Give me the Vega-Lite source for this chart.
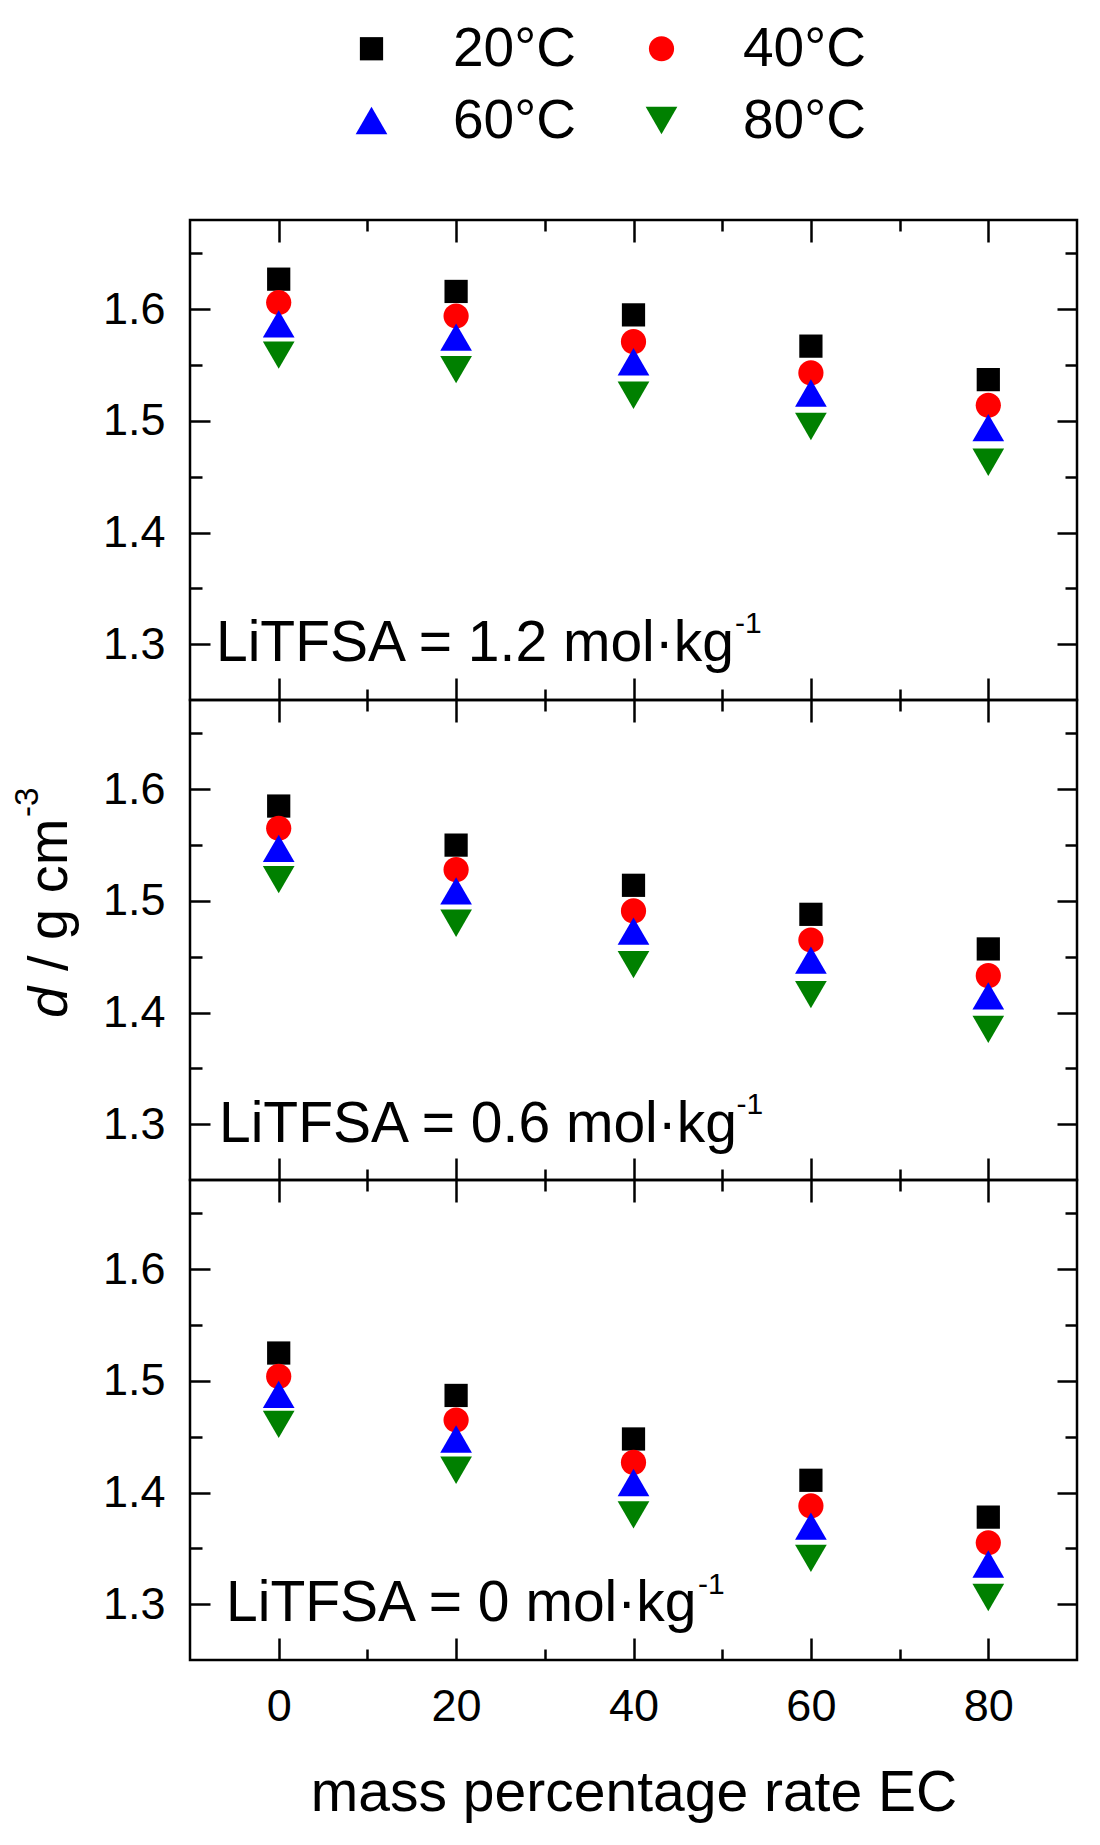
{
  "$schema": "https://vega.github.io/schema/vega-lite/v6.json",
  "background": "white",
  "padding": {"left": 10, "top": 21, "right": 5, "bottom": 5},
  "datasets": {
    "pts": [
      {"c": "1.2", "EC": 0, "T": "20°C", "d": 1.627},
      {"c": "1.2", "EC": 0, "T": "40°C", "d": 1.606},
      {"c": "1.2", "EC": 0, "T": "60°C", "d": 1.587},
      {"c": "1.2", "EC": 0, "T": "80°C", "d": 1.559},
      {"c": "1.2", "EC": 20, "T": "20°C", "d": 1.616},
      {"c": "1.2", "EC": 20, "T": "40°C", "d": 1.594},
      {"c": "1.2", "EC": 20, "T": "60°C", "d": 1.575},
      {"c": "1.2", "EC": 20, "T": "80°C", "d": 1.546},
      {"c": "1.2", "EC": 40, "T": "20°C", "d": 1.595},
      {"c": "1.2", "EC": 40, "T": "40°C", "d": 1.571},
      {"c": "1.2", "EC": 40, "T": "60°C", "d": 1.553},
      {"c": "1.2", "EC": 40, "T": "80°C", "d": 1.523},
      {"c": "1.2", "EC": 60, "T": "20°C", "d": 1.567},
      {"c": "1.2", "EC": 60, "T": "40°C", "d": 1.543},
      {"c": "1.2", "EC": 60, "T": "60°C", "d": 1.525},
      {"c": "1.2", "EC": 60, "T": "80°C", "d": 1.495},
      {"c": "1.2", "EC": 80, "T": "20°C", "d": 1.537},
      {"c": "1.2", "EC": 80, "T": "40°C", "d": 1.514},
      {"c": "1.2", "EC": 80, "T": "60°C", "d": 1.494},
      {"c": "1.2", "EC": 80, "T": "80°C", "d": 1.463},
      {"c": "0.6", "EC": 0, "T": "20°C", "d": 1.585},
      {"c": "0.6", "EC": 0, "T": "40°C", "d": 1.565},
      {"c": "0.6", "EC": 0, "T": "60°C", "d": 1.547},
      {"c": "0.6", "EC": 0, "T": "80°C", "d": 1.519},
      {"c": "0.6", "EC": 20, "T": "20°C", "d": 1.55},
      {"c": "0.6", "EC": 20, "T": "40°C", "d": 1.528},
      {"c": "0.6", "EC": 20, "T": "60°C", "d": 1.509},
      {"c": "0.6", "EC": 20, "T": "80°C", "d": 1.48},
      {"c": "0.6", "EC": 40, "T": "20°C", "d": 1.514},
      {"c": "0.6", "EC": 40, "T": "40°C", "d": 1.491},
      {"c": "0.6", "EC": 40, "T": "60°C", "d": 1.473},
      {"c": "0.6", "EC": 40, "T": "80°C", "d": 1.443},
      {"c": "0.6", "EC": 60, "T": "20°C", "d": 1.488},
      {"c": "0.6", "EC": 60, "T": "40°C", "d": 1.465},
      {"c": "0.6", "EC": 60, "T": "60°C", "d": 1.447},
      {"c": "0.6", "EC": 60, "T": "80°C", "d": 1.416},
      {"c": "0.6", "EC": 80, "T": "20°C", "d": 1.457},
      {"c": "0.6", "EC": 80, "T": "40°C", "d": 1.433},
      {"c": "0.6", "EC": 80, "T": "60°C", "d": 1.415},
      {"c": "0.6", "EC": 80, "T": "80°C", "d": 1.385},
      {"c": "0", "EC": 0, "T": "20°C", "d": 1.525},
      {"c": "0", "EC": 0, "T": "40°C", "d": 1.504},
      {"c": "0", "EC": 0, "T": "60°C", "d": 1.488},
      {"c": "0", "EC": 0, "T": "80°C", "d": 1.461},
      {"c": "0", "EC": 20, "T": "20°C", "d": 1.487},
      {"c": "0", "EC": 20, "T": "40°C", "d": 1.465},
      {"c": "0", "EC": 20, "T": "60°C", "d": 1.448},
      {"c": "0", "EC": 20, "T": "80°C", "d": 1.42},
      {"c": "0", "EC": 40, "T": "20°C", "d": 1.448},
      {"c": "0", "EC": 40, "T": "40°C", "d": 1.427},
      {"c": "0", "EC": 40, "T": "60°C", "d": 1.409},
      {"c": "0", "EC": 40, "T": "80°C", "d": 1.38},
      {"c": "0", "EC": 60, "T": "20°C", "d": 1.411},
      {"c": "0", "EC": 60, "T": "40°C", "d": 1.388},
      {"c": "0", "EC": 60, "T": "60°C", "d": 1.37},
      {"c": "0", "EC": 60, "T": "80°C", "d": 1.341},
      {"c": "0", "EC": 80, "T": "20°C", "d": 1.378},
      {"c": "0", "EC": 80, "T": "40°C", "d": 1.355},
      {"c": "0", "EC": 80, "T": "60°C", "d": 1.336},
      {"c": "0", "EC": 80, "T": "80°C", "d": 1.306}
    ]
  },
  "spacing": 0,
  "bounds": "flush",
  "vconcat": [
    {
      "width": 887,
      "height": 480,
      "data": {"name": "pts"},
      "transform": [{"filter": "datum.c == '1.2'"}],
      "layer": [
        {
          "mark": {"type": "point", "filled": true, "opacity": 1, "size": 540},
          "encoding": {
            "x": {"field": "EC", "type": "quantitative", "scale": {"domain": [-10, 90], "nice": false, "zero": false},
              "axis": {"orient": "bottom", "values": [0, 10, 20, 30, 40, 50, 60, 70, 80], "labels": false, "title": null,
                "tickSize": {"condition": {"test": "datum.value % 20 == 0", "value": -22}, "value": -11}}},
            "y": {"field": "d", "type": "quantitative", "scale": {"domain": [1.25, 1.68], "nice": false, "zero": false},
              "axis": {"orient": "left", "values": [1.3, 1.35, 1.4, 1.45, 1.5, 1.55, 1.6, 1.65], "format": ".1f", "title": null,
                "labelExpr": "abs(datum.value * 10 - round(datum.value * 10)) < 0.01 ? datum.label : ''",
                "labelPadding": 45,
                "tickSize": {"condition": {"test": "abs(datum.value * 10 - round(datum.value * 10)) < 0.01", "value": -20}, "value": -12}}},
            "color": {"field": "T", "type": "nominal",
              "scale": {"domain": ["20°C", "40°C", "60°C", "80°C"], "range": ["#000000", "#ff0000", "#0000ff", "#008000"]},
              "legend": {"orient": "none", "legendX": 154, "legendY": -199, "columns": 2, "title": null, "direction": "horizontal"}},
            "shape": {"field": "T", "type": "nominal",
              "scale": {"domain": ["20°C", "40°C", "60°C", "80°C"], "range": ["square", "M1.085,0A1.085,1.085,0,1,1,-1.085,0A1.085,1.085,0,1,1,1.085,0Z", "M0,-1.175L1.364,1.175L-1.364,1.175Z", "M0,1.175L1.364,-1.175L-1.364,-1.175Z"]},
              "legend": {"orient": "none", "legendX": 154, "legendY": -199, "columns": 2, "title": null, "direction": "horizontal"}}
          }
        },
        {
          "mark": {"type": "point", "opacity": 0},
          "encoding": {
            "x": {"field": "EC", "type": "quantitative", "scale": {"domain": [-10, 90], "nice": false, "zero": false},
              "axis": {"orient": "top", "values": [0, 10, 20, 30, 40, 50, 60, 70, 80], "labels": false, "title": null,
                "tickSize": {"condition": {"test": "datum.value % 20 == 0", "value": -22}, "value": -11}}},
            "y": {"field": "d", "type": "quantitative", "scale": {"domain": [1.25, 1.68], "nice": false, "zero": false},
              "axis": {"orient": "right", "values": [1.3, 1.35, 1.4, 1.45, 1.5, 1.55, 1.6, 1.65], "labels": false, "title": null,
                "tickSize": {"condition": {"test": "abs(datum.value * 10 - round(datum.value * 10)) < 0.01", "value": -20}, "value": -12}}}
          }
        },
        {
          "data": {"values": [{}]},
          "mark": {"type": "text", "align": "left", "baseline": "alphabetic", "fontSize": 57, "font": "Liberation Sans", "color": "black", "text": "LiTFSA = 1.2 mol·kg"},
          "encoding": {
            "x": {"datum": -7.07, "type": "quantitative", "scale": {"domain": [-10, 90], "nice": false, "zero": false}, "axis": null},
            "y": {"datum": 1.285, "type": "quantitative", "scale": {"domain": [1.25, 1.68], "nice": false, "zero": false}, "axis": null}
          }
        },
        {
          "data": {"values": [{}]},
          "mark": {"type": "text", "align": "left", "baseline": "alphabetic", "fontSize": 30, "font": "Liberation Sans", "color": "black", "text": "-1"},
          "encoding": {
            "x": {"datum": 51.44, "type": "quantitative", "scale": {"domain": [-10, 90], "nice": false, "zero": false}, "axis": null},
            "y": {"datum": 1.31, "type": "quantitative", "scale": {"domain": [1.25, 1.68], "nice": false, "zero": false}, "axis": null}
          }
        }
      ],
      "resolve": {"axis": {"x": "independent", "y": "independent"}}
    },
    {
      "width": 887,
      "height": 480,
      "data": {"name": "pts"},
      "transform": [{"filter": "datum.c == '0.6'"}],
      "layer": [
        {
          "mark": {"type": "point", "filled": true, "opacity": 1, "size": 540},
          "encoding": {
            "x": {"field": "EC", "type": "quantitative", "scale": {"domain": [-10, 90], "nice": false, "zero": false},
              "axis": {"orient": "bottom", "values": [0, 10, 20, 30, 40, 50, 60, 70, 80], "labels": false, "title": null,
                "tickSize": {"condition": {"test": "datum.value % 20 == 0", "value": -22}, "value": -11}}},
            "y": {"field": "d", "type": "quantitative", "scale": {"domain": [1.25, 1.68], "nice": false, "zero": false},
              "axis": {"orient": "left", "values": [1.3, 1.35, 1.4, 1.45, 1.5, 1.55, 1.6, 1.65], "format": ".1f", "title": null,
                "labelExpr": "abs(datum.value * 10 - round(datum.value * 10)) < 0.01 ? datum.label : ''",
                "labelPadding": 45,
                "tickSize": {"condition": {"test": "abs(datum.value * 10 - round(datum.value * 10)) < 0.01", "value": -20}, "value": -12}}},
            "color": {"field": "T", "type": "nominal"},
            "shape": {"field": "T", "type": "nominal"}
          }
        },
        {
          "mark": {"type": "point", "opacity": 0},
          "encoding": {
            "x": {"field": "EC", "type": "quantitative", "scale": {"domain": [-10, 90], "nice": false, "zero": false},
              "axis": {"orient": "top", "values": [0, 10, 20, 30, 40, 50, 60, 70, 80], "labels": false, "title": null,
                "tickSize": {"condition": {"test": "datum.value % 20 == 0", "value": -22}, "value": -11}}},
            "y": {"field": "d", "type": "quantitative", "scale": {"domain": [1.25, 1.68], "nice": false, "zero": false},
              "axis": {"orient": "right", "values": [1.3, 1.35, 1.4, 1.45, 1.5, 1.55, 1.6, 1.65], "labels": false, "title": null,
                "tickSize": {"condition": {"test": "abs(datum.value * 10 - round(datum.value * 10)) < 0.01", "value": -20}, "value": -12}}}
          }
        },
        {
          "data": {"values": [{}]},
          "mark": {"type": "text", "align": "left", "baseline": "alphabetic", "fontSize": 57, "font": "Liberation Sans", "color": "black", "text": "LiTFSA = 0.6 mol·kg"},
          "encoding": {
            "x": {"datum": -6.73, "type": "quantitative", "scale": {"domain": [-10, 90], "nice": false, "zero": false}, "axis": null},
            "y": {"datum": 1.284, "type": "quantitative", "scale": {"domain": [1.25, 1.68], "nice": false, "zero": false}, "axis": null}
          }
        },
        {
          "data": {"values": [{}]},
          "mark": {"type": "text", "align": "left", "baseline": "alphabetic", "fontSize": 30, "font": "Liberation Sans", "color": "black", "text": "-1"},
          "encoding": {
            "x": {"datum": 51.62, "type": "quantitative", "scale": {"domain": [-10, 90], "nice": false, "zero": false}, "axis": null},
            "y": {"datum": 1.309, "type": "quantitative", "scale": {"domain": [1.25, 1.68], "nice": false, "zero": false}, "axis": null}
          }
        },
        {
          "data": {"values": [{}]},
          "mark": {"type": "text", "align": "left", "baseline": "alphabetic", "angle": 270, "fontSize": 56, "fontStyle": "italic", "font": "Liberation Sans", "color": "black", "text": "d"},
          "encoding": {
            "x": {"datum": -23.87, "type": "quantitative", "scale": {"domain": [-10, 90], "nice": false, "zero": false}, "axis": null},
            "y": {"datum": 1.3951, "type": "quantitative", "scale": {"domain": [1.25, 1.68], "nice": false, "zero": false}, "axis": null}
          }
        },
        {
          "data": {"values": [{}]},
          "mark": {"type": "text", "align": "left", "baseline": "alphabetic", "angle": 270, "fontSize": 56, "font": "Liberation Sans", "color": "black", "text": "/ g cm"},
          "encoding": {
            "x": {"datum": -23.87, "type": "quantitative", "scale": {"domain": [-10, 90], "nice": false, "zero": false}, "axis": null},
            "y": {"datum": 1.4372, "type": "quantitative", "scale": {"domain": [1.25, 1.68], "nice": false, "zero": false}, "axis": null}
          }
        },
        {
          "data": {"values": [{}]},
          "mark": {"type": "text", "align": "left", "baseline": "alphabetic", "angle": 270, "fontSize": 33, "font": "Liberation Sans", "color": "black", "text": "-3"},
          "encoding": {
            "x": {"datum": -27.14, "type": "quantitative", "scale": {"domain": [-10, 90], "nice": false, "zero": false}, "axis": null},
            "y": {"datum": 1.5752, "type": "quantitative", "scale": {"domain": [1.25, 1.68], "nice": false, "zero": false}, "axis": null}
          }
        }
      ],
      "resolve": {"axis": {"x": "independent", "y": "independent"}}
    },
    {
      "width": 887,
      "height": 480,
      "data": {"name": "pts"},
      "transform": [{"filter": "datum.c == '0'"}],
      "layer": [
        {
          "mark": {"type": "point", "filled": true, "opacity": 1, "size": 540},
          "encoding": {
            "x": {"field": "EC", "type": "quantitative", "scale": {"domain": [-10, 90], "nice": false, "zero": false},
              "axis": {"orient": "bottom", "values": [0, 10, 20, 30, 40, 50, 60, 70, 80],
                "labelExpr": "datum.value % 20 == 0 ? datum.label : ''",
                "labelPadding": 46,
                "title": "mass percentage rate EC", "titleY": 150, "titleBaseline": "alphabetic", "titleAnchor": "middle",
                "tickSize": {"condition": {"test": "datum.value % 20 == 0", "value": -22}, "value": -11}}},
            "y": {"field": "d", "type": "quantitative", "scale": {"domain": [1.25, 1.68], "nice": false, "zero": false},
              "axis": {"orient": "left", "values": [1.3, 1.35, 1.4, 1.45, 1.5, 1.55, 1.6, 1.65], "format": ".1f", "title": null,
                "labelExpr": "abs(datum.value * 10 - round(datum.value * 10)) < 0.01 ? datum.label : ''",
                "labelPadding": 45,
                "tickSize": {"condition": {"test": "abs(datum.value * 10 - round(datum.value * 10)) < 0.01", "value": -20}, "value": -12}}},
            "color": {"field": "T", "type": "nominal"},
            "shape": {"field": "T", "type": "nominal"}
          }
        },
        {
          "mark": {"type": "point", "opacity": 0},
          "encoding": {
            "x": {"field": "EC", "type": "quantitative", "scale": {"domain": [-10, 90], "nice": false, "zero": false},
              "axis": {"orient": "top", "values": [0, 10, 20, 30, 40, 50, 60, 70, 80], "labels": false, "title": null,
                "tickSize": {"condition": {"test": "datum.value % 20 == 0", "value": -22}, "value": -11}}},
            "y": {"field": "d", "type": "quantitative", "scale": {"domain": [1.25, 1.68], "nice": false, "zero": false},
              "axis": {"orient": "right", "values": [1.3, 1.35, 1.4, 1.45, 1.5, 1.55, 1.6, 1.65], "labels": false, "title": null,
                "tickSize": {"condition": {"test": "abs(datum.value * 10 - round(datum.value * 10)) < 0.01", "value": -20}, "value": -12}}}
          }
        },
        {
          "data": {"values": [{}]},
          "mark": {"type": "text", "align": "left", "baseline": "alphabetic", "fontSize": 57, "font": "Liberation Sans", "color": "black", "text": "LiTFSA = 0 mol·kg"},
          "encoding": {
            "x": {"datum": -5.94, "type": "quantitative", "scale": {"domain": [-10, 90], "nice": false, "zero": false}, "axis": null},
            "y": {"datum": 1.2852, "type": "quantitative", "scale": {"domain": [1.25, 1.68], "nice": false, "zero": false}, "axis": null}
          }
        },
        {
          "data": {"values": [{}]},
          "mark": {"type": "text", "align": "left", "baseline": "alphabetic", "fontSize": 30, "font": "Liberation Sans", "color": "black", "text": "-1"},
          "encoding": {
            "x": {"datum": 47.27, "type": "quantitative", "scale": {"domain": [-10, 90], "nice": false, "zero": false}, "axis": null},
            "y": {"datum": 1.309, "type": "quantitative", "scale": {"domain": [1.25, 1.68], "nice": false, "zero": false}, "axis": null}
          }
        }
      ],
      "resolve": {"axis": {"x": "independent", "y": "independent"}}
    }
  ],
  "config": {
    "font": "Liberation Sans",
    "view": {"stroke": "black", "strokeWidth": 2.5},
    "axis": {
      "domain": false, "grid": false, "tickColor": "black", "tickWidth": 2.5,
      "labelColor": "black", "labelFont": "Liberation Sans", "labelFontSize": 45,
      "labelOverlap": false, "labelFlush": false, "labelBound": false,
      "titleColor": "black", "titleFont": "Liberation Sans", "titleFontSize": 57, "titleFontWeight": "normal"
    },
    "legend": {
      "labelFont": "Liberation Sans", "labelFontSize": 55, "labelColor": "black",
      "symbolSize": 540, "labelOffset": 54, "columnPadding": 58, "rowPadding": 16,
      "symbolStrokeWidth": 0, "symbolOpacity": 1
    }
  }
}
